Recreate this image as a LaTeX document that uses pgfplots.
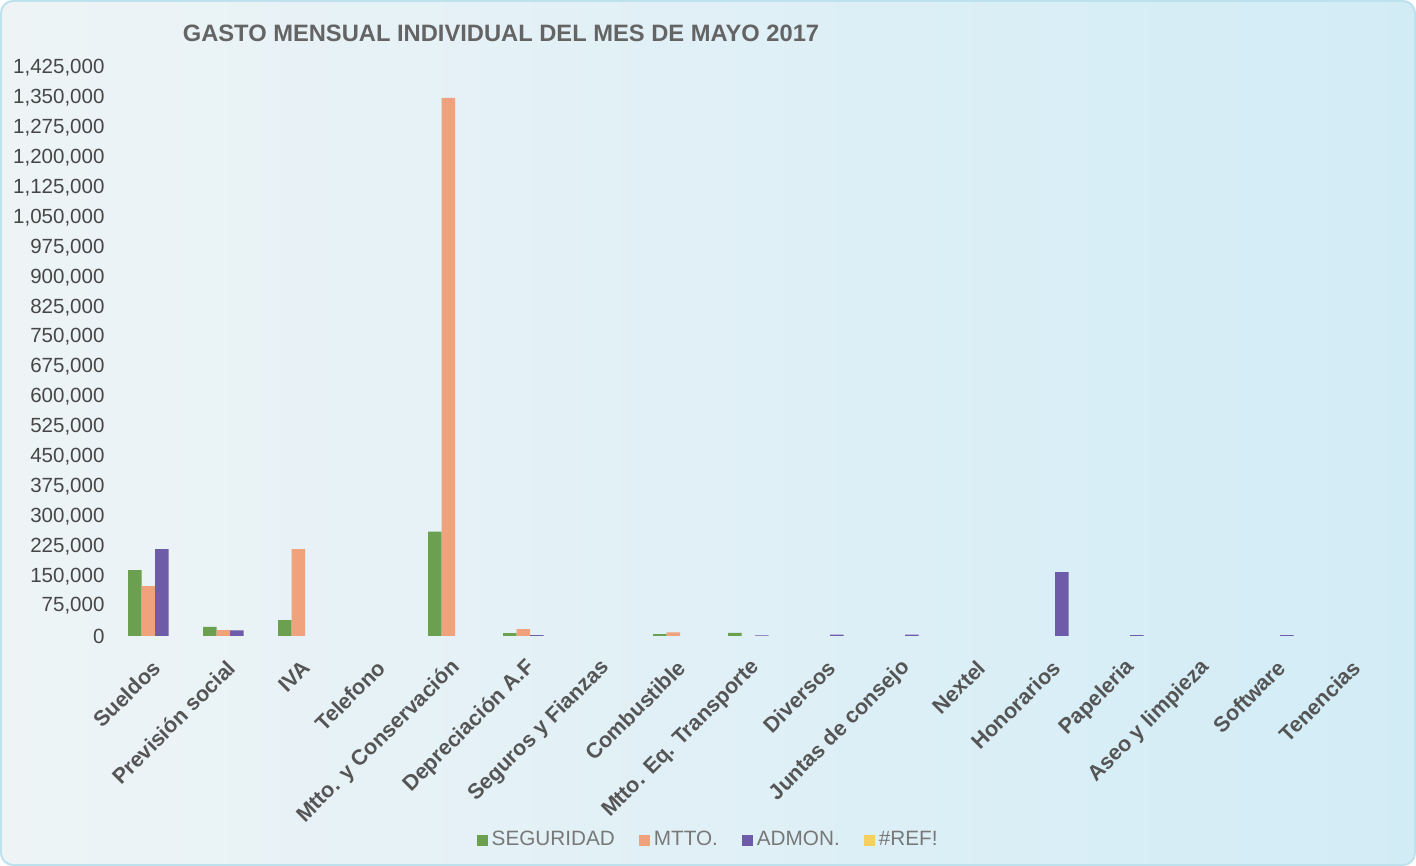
\documentclass[border=0pt]{standalone}
\usepackage{pgfplots}
\pgfplotsset{compat=1.18}
\usepackage{fontspec}
\setmainfont{Liberation Sans}
\definecolor{cSeg}{RGB}{106,160,80}
\definecolor{cMtt}{RGB}{240,162,124}
\definecolor{cAdm}{RGB}{110,92,168}
\definecolor{cRef}{RGB}{245,208,96}
\definecolor{bgL}{RGB}{238,244,246}
\definecolor{bgR}{RGB}{210,236,246}
\definecolor{txt}{RGB}{70,70,70}
\begin{document}
\begin{tikzpicture}
\shade[left color=bgL, right color=bgR, draw={rgb,255:red,190;green,225;blue,238}, rounded corners=6bp, line width=1bp] (0.5bp,0.5bp) rectangle (707.5bp,432.5bp);
\node[font=\fontsize{11.9}{13}\selectfont\bfseries, text={rgb,255:red,100;green,100;blue,100}] at (250.5bp,416.5bp) {GASTO MENSUAL INDIVIDUAL DEL MES DE MAYO 2017};
\begin{axis}[
  at={(58.75bp,115bp)}, anchor=south west,
  scale only axis, width=637.5bp, height=284bp,
  xmin=-0.5, xmax=16.5, ymin=0, ymax=1425000,
  ybar, bar width=6.75bp,
  axis line style={draw=none}, tick style={draw=none},
  ytick={0,75000,...,1425000},
  scaled y ticks=false,
  /pgf/number format/fixed,
  /pgf/number format/1000 sep={,},
  /pgf/number format/assume math mode=true,
  yticklabel style={font=\fontsize{10.3}{11}\selectfont, text=txt, xshift=-3bp},
  xtick={0,...,16},
  xticklabels={Sueldos, Previsión social, IVA, Telefono, Mtto. y Conservación, Depreciación A.F, Seguros y Fianzas, Combustible, Mtto. Eq. Transporte, Diversos, Juntas de consejo, Nextel, Honorarios, Papeleria, Aseo y limpieza, Software, Tenencias},
  xticklabel style={font=\fontsize{10.8}{12}\selectfont\bfseries, text={rgb,255:red,85;green,85;blue,85}, rotate=45, anchor=east, xshift=-3bp, yshift=-7.5bp},
  legend columns=4,
  legend style={at={(0.464,-0.359)}, anchor=center, draw=none, fill=none, font=\fontsize{10.4}{12}\selectfont, text={rgb,255:red,120;green,120;blue,120}, /tikz/every even column/.append style={column sep=10bp}},
  legend image code/.code={\fill[#1] (0bp,-3bp) rectangle (5.5bp,2.5bp);},
]
\addplot[fill=cSeg, draw=none, bar shift=-10.125bp] coordinates {(0,165000) (1,23000) (2,40000) (4,262000) (5,7000) (7,5000) (8,8000)};
\addlegendentry{SEGURIDAD}
\addplot[fill=cMtt, draw=none, bar shift=-3.375bp] coordinates {(0,125000) (1,15000) (2,218000) (4,1350000) (5,17000) (7,9000)};
\addlegendentry{MTTO.}
\addplot[fill=cAdm, draw=none, bar shift=3.375bp] coordinates {(0,218000) (1,14000) (5,2500) (8,1500) (9,3500) (10,3500) (12,160000) (13,2000) (15,2500)};
\addlegendentry{ADMON.}
\addlegendimage{fill=cRef, draw=none}
\addlegendentry{\#REF!}
\end{axis}
\end{tikzpicture}
\end{document}
